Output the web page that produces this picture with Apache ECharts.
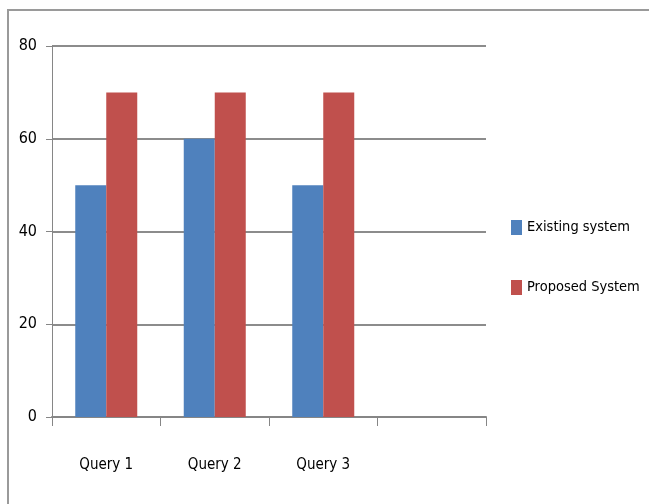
<!DOCTYPE html>
<html>
<head>
<meta charset="utf-8">
<script src="https://cdn.jsdelivr.net/npm/echarts@6/dist/echarts.min.js"></script>
<style>
html, body { margin: 0; padding: 0; background: #fff; }
#chart { width: 649px; height: 504px; }
</style>
</head>
<body>
<div id="chart"></div>
<script>
let categories = ['Query 1', 'Query 2', 'Query 3', '']
let existing = [50, 60, 50, null]
let proposed = [70, 70, 70, null]
let yTicks = [0, 20, 40, 60, 80]

let font = '"DejaVu Sans Condensed", "Liberation Sans", sans-serif'
let mychart = echarts.init(document.getElementById('chart'))

let options = {
    animation: false,
    backgroundColor: '#ffffff',
    graphic: [
        {
            type: 'rect',
            shape: { x: 8, y: 10, width: 700, height: 600 },
            style: { fill: 'none', stroke: '#9a9a9a', lineWidth: 2 }
        }
    ],
    grid: { left: 52, right: 163, top: 46, bottom: 87 },
    legend: {
        orient: 'vertical',
        left: 506,
        top: 215,
        itemWidth: 11,
        itemHeight: 15,
        itemGap: 45,
        icon: 'rect',
        textStyle: { fontFamily: font, fontSize: 14.5, color: '#000' },
        data: ['Existing system', 'Proposed System']
    },
    xAxis: {
        type: 'category',
        data: categories,
        axisLine: { lineStyle: { color: '#868686', width: 2 } },
        axisTick: { show: true, length: 9, alignWithLabel: false, lineStyle: { color: '#868686' } },
        axisLabel: { fontFamily: font, fontSize: 15, color: '#000', margin: 41 }
    },
    yAxis: {
        type: 'value',
        min: 0,
        max: yTicks[yTicks.length - 1],
        interval: 20,
        axisLine: { show: true, lineStyle: { color: '#868686', width: 1 } },
        axisTick: { show: true, length: 6, lineStyle: { color: '#868686' } },
        axisLabel: { fontFamily: font, fontSize: 16, color: '#000', margin: 15 },
        splitLine: { lineStyle: { color: '#8c8c8c', width: 2 } }
    },
    series: [
        {
            name: 'Existing system',
            type: 'bar',
            data: existing,
            barWidth: 31,
            barGap: '0%',
            itemStyle: { color: '#4f81bd' }
        },
        {
            name: 'Proposed System',
            type: 'bar',
            data: proposed,
            barWidth: 31,
            itemStyle: { color: '#c0504d' }
        }
    ]
}

mychart.setOption(options)
</script>
</body>
</html>
